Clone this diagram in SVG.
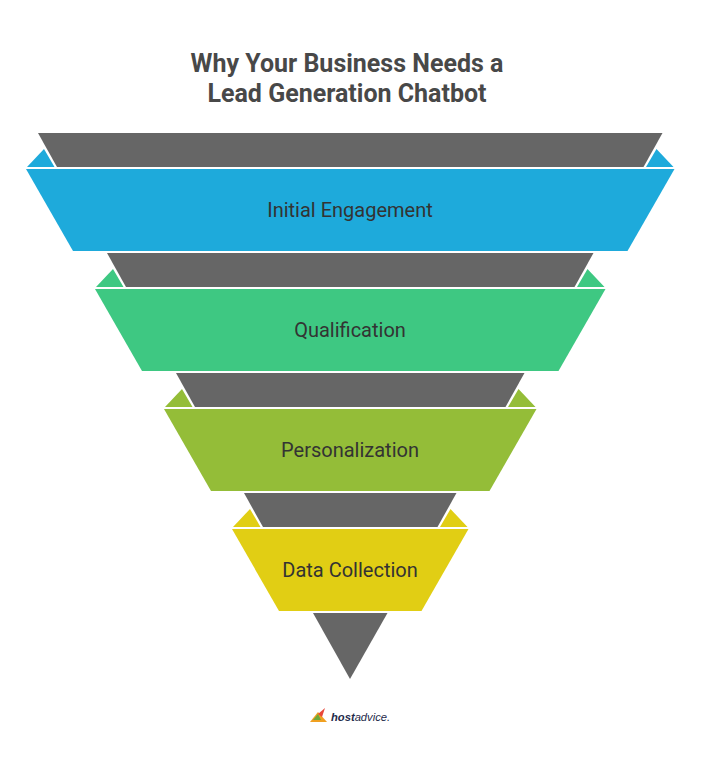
<svg xmlns="http://www.w3.org/2000/svg" width="701" height="759" viewBox="0 0 701 759">
<style>
.gray{fill:#666666}
.t{font-family:Roboto,"Liberation Sans",sans-serif;font-size:20px;fill:#333333;text-anchor:middle}
.title{font-family:Roboto,"Liberation Sans",sans-serif;font-size:25px;font-weight:700;fill:#484848;text-anchor:middle}
</style>
<rect width="701" height="759" fill="#ffffff"/>
<g id="title"><text class="title" x="347" y="72">Why Your Business Needs a</text><text class="title" x="347" y="101.5">Lead Generation Chatbot</text></g>
<g id="stage-1">
<polygon class="gray" points="38,133 662.5,133 643.5,167 57,167"/>
<polygon fill="#1eaadb" points="27,167 44,149 54.5,167"/><polygon fill="#1eaadb" points="673.5,167 656.5,149 646,167"/>
<polygon fill="#1eaadb" points="26,169 674.5,169 627.5,251 73,251"/>
<text class="t" x="350" y="217">Initial Engagement</text></g>
<g id="stage-2">
<polygon class="gray" points="107,253 593.5,253 574.5,287 126,287"/>
<polygon fill="#3ec882" points="96,287 113,269 123.5,287"/><polygon fill="#3ec882" points="604.5,287 587.5,269 577,287"/>
<polygon fill="#3ec882" points="95,289 605.5,289 558.5,371 142,371"/>
<text class="t" x="350" y="337">Qualification</text></g>
<g id="stage-3">
<polygon class="gray" points="176,373 524.5,373 505.5,407 195,407"/>
<polygon fill="#94bd38" points="165,407 182,389 192.5,407"/><polygon fill="#94bd38" points="535.5,407 518.5,389 508,407"/>
<polygon fill="#94bd38" points="164,409 536.5,409 489.5,491 211,491"/>
<text class="t" x="350" y="457">Personalization</text></g>
<g id="stage-4">
<polygon class="gray" points="244,493 456.5,493 437.5,527 263,527"/>
<polygon fill="#e1ce14" points="233,527 250,509 260.5,527"/><polygon fill="#e1ce14" points="467.5,527 450.5,509 440,527"/>
<polygon fill="#e1ce14" points="232,529 468.5,529 421.5,611 279,611"/>
<text class="t" x="350" y="577">Data Collection</text></g>
<g id="tip"><polygon class="gray" points="313,613 387.5,613 350,679"/></g>
<g id="logo">
<polygon fill="#f0a020" points="310,722 318,712 327,722"/>
<polygon fill="#e8483a" points="318,714 325,708 322,717"/>
<polygon fill="#6fa83a" points="313,720 318,714 321,720"/>
<text x="331" y="721" font-family="Liberation Sans,sans-serif" font-size="11.2" font-style="italic" fill="#1e2a4a"><tspan font-weight="700">host</tspan>advice.</text>
</g>
<g id="connectors"/>
</svg>
